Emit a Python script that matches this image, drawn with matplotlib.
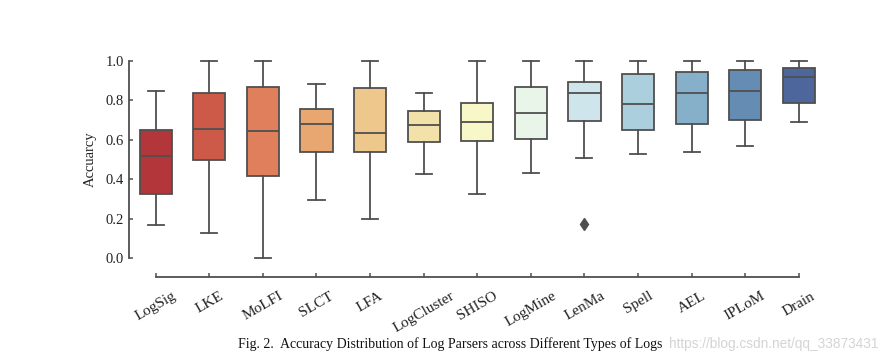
# boxplot of log parser accuracy across log types
import numpy as np
import matplotlib
matplotlib.use('Agg')
import matplotlib.pyplot as plt
import seaborn as sns

parsers = ['LogSig', 'LKE', 'MoLFI', 'SLCT', 'LFA', 'LogCluster', 'SHISO',
           'LogMine', 'LenMa', 'Spell', 'AEL', 'IPLoM', 'Drain']
whislo = [0.170, 0.130, 0.000, 0.297, 0.200, 0.427, 0.325, 0.432, 0.509, 0.528, 0.538, 0.567, 0.690]
q1     = [0.325, 0.499, 0.416, 0.540, 0.538, 0.590, 0.594, 0.604, 0.697, 0.651, 0.680, 0.702, 0.786]
med    = [0.519, 0.653, 0.643, 0.678, 0.633, 0.676, 0.688, 0.734, 0.837, 0.783, 0.835, 0.847, 0.916]
q3     = [0.648, 0.838, 0.867, 0.757, 0.860, 0.745, 0.784, 0.869, 0.894, 0.931, 0.944, 0.954, 0.963]
whishi = [0.848, 1.000, 1.000, 0.884, 1.000, 0.835, 1.000, 1.000, 1.000, 1.000, 1.000, 1.000, 1.000]
outliers = {'LenMa': [0.175]}

plt.rcParams['font.family'] = ['Liberation Serif', 'DejaVu Serif']

stats = []
for i, name in enumerate(parsers):
    stats.append({'label': name, 'whislo': whislo[i], 'q1': q1[i], 'med': med[i],
                  'q3': q3[i], 'whishi': whishi[i], 'fliers': outliers.get(name, [])})

colors = sns.color_palette('RdYlBu', len(parsers), desat=0.75)
gray = '#4f4f4f'

fig = plt.figure(figsize=(8.83, 3.62), dpi=100)
ax = fig.add_axes([0.146, 0.259, 0.789, 0.6006])

lw = 1.3
bp = ax.bxp(stats, positions=np.arange(len(parsers)), widths=0.6, patch_artist=True,
            boxprops=dict(edgecolor=gray, linewidth=lw),
            medianprops=dict(color=gray, linewidth=lw),
            whiskerprops=dict(color=gray, linewidth=lw),
            capprops=dict(color=gray, linewidth=lw),
            flierprops=dict(marker='d', markerfacecolor=gray, markeredgecolor=gray,
                            markersize=6))
for patch, c in zip(bp['boxes'], colors):
    patch.set_facecolor(c)

ax.set_xlim(-0.5, len(parsers) - 0.5)
ax.set_ylim(-0.05, 1.05)
ax.set_yticks([0.0, 0.2, 0.4, 0.6, 0.8, 1.0])
ax.set_yticklabels(['0.0', '0.2', '0.4', '0.6', '0.8', '1.0'])
ax.set_xticks(np.arange(len(parsers)))
ax.set_xticklabels(parsers)

for s in ['top', 'right']:
    ax.spines[s].set_visible(False)
ax.spines['left'].set_bounds(0, 1)
ax.spines['bottom'].set_bounds(0, len(parsers) - 1)
ax.spines['bottom'].set_position(('outward', 6.3))
for s in ['left', 'bottom']:
    ax.spines[s].set_color(gray)
    ax.spines[s].set_linewidth(1.3)

ax.tick_params(axis='y', direction='in', length=3, width=1.1, color=gray, pad=3.5,
               labelsize=10.5, labelcolor='#222222')
ax.tick_params(axis='x', direction='in', length=3, width=1.1, color=gray, pad=9,
               labelsize=11, labelcolor='#222222', labelrotation=30)
for lab in ax.get_xticklabels():
    lab.set_ha('center')
ax.set_ylabel('Accuarcy', fontsize=10.5, color='#222222', labelpad=6)

fig.text(0.51, 0.05, 'Fig. 2.  Accuracy Distribution of Log Parsers across Different Types of Logs',
         ha='center', va='center', fontsize=10, color='#111111')
# csdn watermark at the lower right
fig.text(0.995, 0.05, 'https://blog.csdn.net/qq_33873431', ha='right', va='center',
         fontsize=9.8, color='#d4d4d4', family='Liberation Sans')

fig.savefig('out.png', dpi=100)
